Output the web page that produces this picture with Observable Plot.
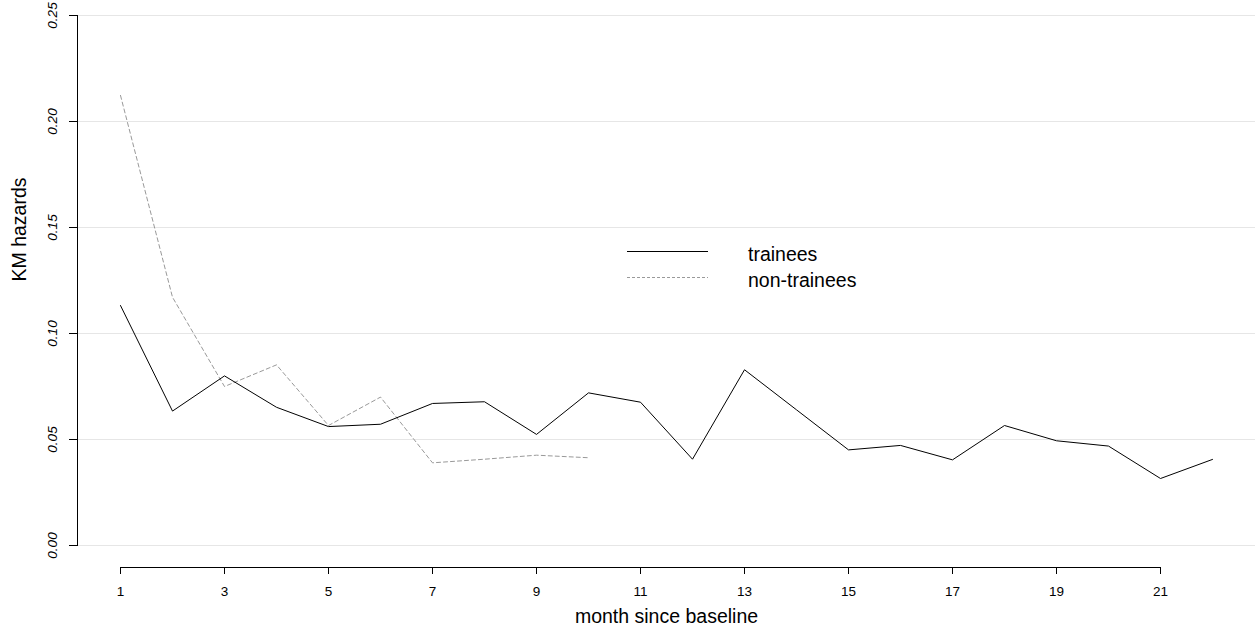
<!DOCTYPE html>
<html>
<head>
<meta charset="utf-8">
<script src="https://cdn.jsdelivr.net/npm/d3@7"></script>
<script src="https://cdn.jsdelivr.net/npm/@observablehq/plot@0.6"></script>
<style>
  body { margin: 0; background: #fff; font-family: "Liberation Sans", Arial, sans-serif; }
  #wrap { position: relative; width: 1255px; height: 635px; }
  #legend { position: absolute; left: 0; top: 0; pointer-events: none; }
</style>
</head>
<body>
<div id="wrap"></div>
<script>
// Kaplan–Meier monthly hazards by group
const months = d3.range(1, 23);
const traineeHazard = [0.1132, 0.0634, 0.0800, 0.0652, 0.0561, 0.0572, 0.0670, 0.0678, 0.0524, 0.0720, 0.0676,
                       0.0407, 0.0829, 0.0640, 0.0451, 0.0472, 0.0404, 0.0566, 0.0494, 0.0469, 0.0316, 0.0406];
const nonTraineeHazard = [0.2123, 0.1171, 0.0750, 0.0852, 0.0566, 0.0700, 0.0390, 0.0407, 0.0426, 0.0414];
const xTickMonths = [1, 3, 5, 7, 9, 11, 13, 15, 17, 19, 21];
const yTickValues = [0, 0.05, 0.10, 0.15, 0.20, 0.25];
const seriesLabels = ["trainees", "non-trainees"];
const xLabel = "month since baseline";
const yLabel = "KM hazards";

const font = "'Liberation Sans', Arial, sans-serif";
const axisGap = 22; // detached x axis sits below the plotting region

const chart = Plot.plot({
  width: 1255,
  height: 635,
  marginLeft: 77,
  marginRight: 0,
  marginTop: 15,
  marginBottom: 68,
  style: { fontFamily: font, fontSize: "13.5px", background: "white", color: "black" },
  x: { domain: [1, 22], insetLeft: 43, insetRight: 43 },
  y: { domain: [0, 0.25], insetBottom: axisGap },
  marks: [
    Plot.ruleY(yTickValues, { stroke: "#e6e6e6", strokeWidth: 1 }),
    Plot.frame({ anchor: "left", insetBottom: axisGap, stroke: "black" }),
    Plot.ruleY([0], { x1: xTickMonths[0], x2: xTickMonths[xTickMonths.length - 1], dy: axisGap, stroke: "black" }),
    Plot.axisX(xTickMonths, { tickSize: 7, tickPadding: 12, label: null, tickFormat: d => String(d) }),
    Plot.axisY(yTickValues, { tickSize: 8, tickPadding: 13, tickRotate: -90, fontStyle: "italic",
                              tickFormat: d3.format(".2f"), label: null }),
    Plot.lineY(nonTraineeHazard, { x: (d, i) => months[i], y: d => d, stroke: "#999", strokeWidth: 1, strokeDasharray: "4,3" }),
    Plot.lineY(traineeHazard, { x: (d, i) => months[i], y: d => d, stroke: "black", strokeWidth: 1 }),
    Plot.text([xLabel], { frameAnchor: "bottom", dy: 55, fontSize: 19.5, fill: "black" }),
    Plot.text([yLabel], { frameAnchor: "left", rotate: -90, dx: -58, dy: -10, fontSize: 19.5, fill: "black" })
  ]
});

const wrap = document.getElementById("wrap");
wrap.appendChild(chart);

// legend drawn inside the plotting area
const legend = d3.select(wrap).append("svg")
  .attr("id", "legend")
  .attr("width", 1255)
  .attr("height", 635);
const legendStyles = [
  { stroke: "black", dash: null },
  { stroke: "#999", dash: "3,2" }
];
seriesLabels.forEach((label, i) => {
  const y = 251.5 + i * 26;
  legend.append("line")
    .attr("x1", 627).attr("x2", 708)
    .attr("y1", y).attr("y2", y)
    .attr("stroke", legendStyles[i].stroke)
    .attr("stroke-width", 1)
    .attr("stroke-dasharray", legendStyles[i].dash);
  legend.append("text")
    .attr("x", 748).attr("y", y + 9)
    .attr("font-family", font)
    .attr("font-size", 19.5)
    .attr("fill", "black")
    .text(label);
});
</script>
</body>
</html>
